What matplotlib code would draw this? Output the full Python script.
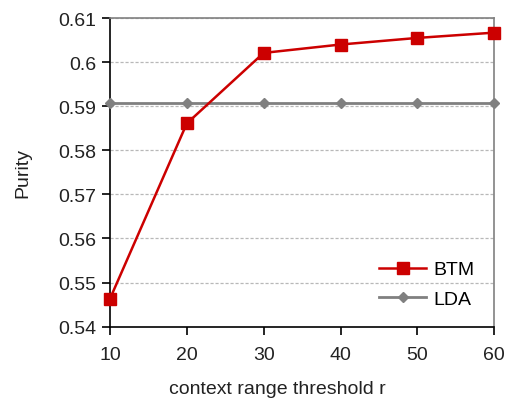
import matplotlib
matplotlib.use('Agg')
import matplotlib.pyplot as plt

plt.rcParams['font.family'] = ['Liberation Sans', 'DejaVu Sans']

# data
thresholds = [10, 20, 30, 40, 50, 60]
btm_purity = [0.5463, 0.5861, 0.6021, 0.6040, 0.6055, 0.6067]
lda_purity = [0.5908, 0.5908, 0.5908, 0.5908, 0.5908, 0.5908]
yticks = [0.54, 0.55, 0.56, 0.57, 0.58, 0.59, 0.6, 0.61]
ytick_labels = ['0.54', '0.55', '0.56', '0.57', '0.58', '0.59', '0.6', '0.61']

fig = plt.figure(figsize=(5.09, 4.06), dpi=100, facecolor='white')
ax = fig.add_axes([0.216, 0.193, 0.755, 0.760])

for y in yticks[1:]:
    ax.axhline(y, color='#b8b8b8', linestyle=(0, (2.5, 1.5)), linewidth=0.9, zorder=1)

ax.plot(thresholds, lda_purity, color='#808080', linewidth=2, marker='D',
        markersize=5, label='LDA', zorder=3, clip_on=False)
ax.plot(thresholds, btm_purity, color='#cc0000', linewidth=1.8, marker='s',
        markersize=8.5, label='BTM', zorder=4, clip_on=False)

ax.set_xlim(10, 60)
ax.set_ylim(0.54, 0.61)
ax.set_xticks(thresholds)
ax.set_yticks(yticks)
ax.set_yticklabels(ytick_labels)
ax.tick_params(axis='both', labelsize=14, direction='out', length=6, width=1.2,
               colors='black', labelcolor='#222222')
ax.tick_params(axis='x', pad=8)
ax.tick_params(axis='y', pad=4)

ax.spines['left'].set_linewidth(1.2)
ax.spines['bottom'].set_linewidth(1.2)
ax.spines['right'].set_color('#808080')
ax.spines['right'].set_linewidth(1.2)
ax.spines['top'].set_color('#808080')
ax.spines['top'].set_linewidth(1.2)

ax.set_xlabel('context range threshold r', fontsize=14, color='#222222')
ax.xaxis.set_label_coords(0.435, -0.172)
ax.set_ylabel('Purity', fontsize=14, labelpad=19, color='#222222')

handles, labels = ax.get_legend_handles_labels()
ax.legend(handles[::-1], labels[::-1], loc='lower right', frameon=False, fontsize=14,
          handlelength=2.4, handletextpad=0.4, labelspacing=0.6,
          bbox_to_anchor=(0.995, 0.005))

fig.savefig('out.png', dpi=100, facecolor='white')
